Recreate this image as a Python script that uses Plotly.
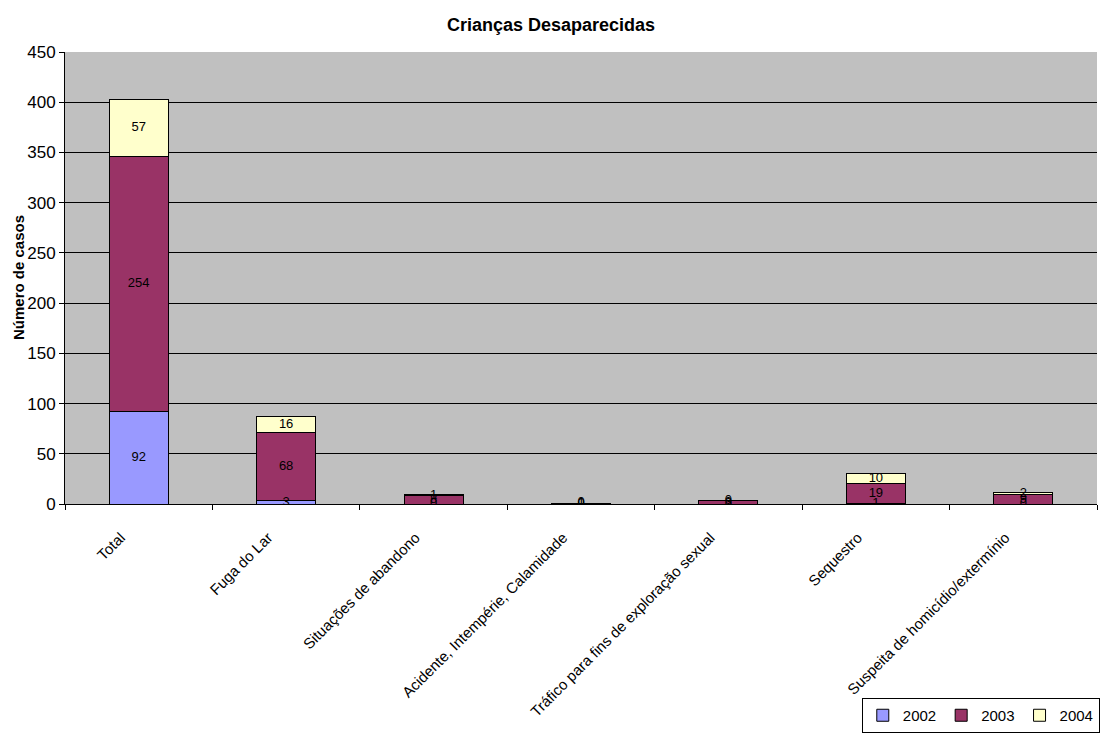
import plotly.graph_objects as go

categories = ["Total", "Fuga do Lar", "Situações de abandono",
              "Acidente, Intempérie, Calamidade",
              "Tráfico para fins de exploração sexual",
              "Sequestro", "Suspeita de homicídio/extermínio"]
v2002 = [92, 3, 0, 0, 0, 1, 0]
v2003 = [254, 68, 8, 1, 3, 19, 9]
v2004 = [57, 16, 1, 0, 0, 10, 2]
series = [("2002", v2002, "#9999FF"), ("2003", v2003, "#993366"), ("2004", v2004, "#FFFFCC")]
y_ticks = list(range(0, 451, 50))

fig = go.Figure()
base = [0] * len(categories)
lab_x, lab_y, lab_t = [], [], []
for name, vals, col in series:
    fig.add_trace(go.Bar(x=categories, y=vals, name=name, marker_color=col,
                         marker_line=dict(color="black", width=1), width=0.4))
    for i, v in enumerate(vals):
        lab_x.append(categories[i]); lab_y.append(base[i] + v / 2); lab_t.append(str(v))
        base[i] += v
fig.add_trace(go.Scatter(x=lab_x, y=lab_y, text=lab_t, mode="text", showlegend=False,
                         textfont=dict(family="Liberation Sans, Arial", size=13, color="black"),
                         hoverinfo="skip"))

fig.update_layout(
    barmode="stack", width=1102, height=733,
    margin=dict(l=65, r=5, t=52, b=229),
    paper_bgcolor="white", plot_bgcolor="#C0C0C0",
    font=dict(family="Liberation Sans, Arial", size=12, color="black"),
    title=dict(text="<b>Crianças Desaparecidas</b>", x=0.5, xanchor="center", y=0.966,
               yanchor="middle", font=dict(size=18)),
    legend=dict(orientation="h", xref="container", yref="container", x=0.998, y=0.0,
                xanchor="right", yanchor="bottom", bordercolor="black", borderwidth=1,
                font=dict(size=15), itemwidth=30, traceorder="normal"),
    bargap=0.6,
    annotations=[dict(text="<b>Número de casos</b>", xref="paper", yref="paper",
                      x=-0.0455, y=0.5, textangle=-90, showarrow=False,
                      xanchor="center", yanchor="middle", font=dict(size=15))],
)
fig.update_xaxes(tickangle=-45, showline=True, linecolor="black", ticks="outside",
                 tickson="boundaries", ticklen=5, tickcolor="black",
                 tickfont=dict(size=15), automargin=False,
                 ticklabelshift=-18, ticklabelstandoff=18)
fig.update_yaxes(range=[0, 450], tickvals=y_ticks, showgrid=True, gridcolor="black",
                 gridwidth=1, showline=True, linecolor="black", ticks="outside", ticklen=5,
                 tickcolor="black", zeroline=False, automargin=False,
                 tickfont=dict(size=17))
fig.write_html("out.html", config={"displayModeBar": False},
               post_script="document.body.style.margin='0';document.body.style.overflow='hidden';")
